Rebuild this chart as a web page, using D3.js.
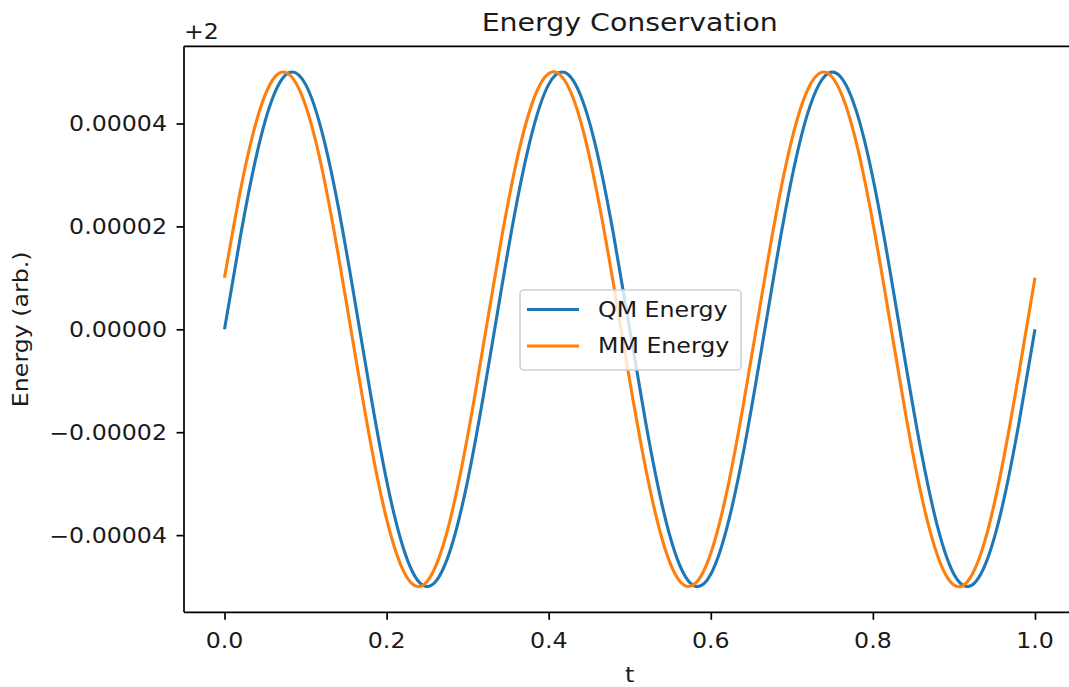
<!DOCTYPE html>
<html>
<head>
<meta charset="utf-8">
<script src="https://cdn.jsdelivr.net/npm/d3@7"></script>
<style>
  html, body { margin: 0; padding: 0; background: #ffffff; }
  svg { display: block; }
  text { font-family: "DejaVu Sans", sans-serif; fill: #1a1a1a; }
</style>
</head>
<body>
<script>
// Sample times (t) shared by both energy traces
const timePoints = [
  0.00, 0.02, 0.04, 0.06, 0.08, 0.10, 0.12, 0.14, 0.16, 0.18,
  0.20, 0.22, 0.24, 0.26, 0.28, 0.30, 0.32, 0.34, 0.36, 0.38,
  0.40, 0.42, 0.44, 0.46, 0.48, 0.50, 0.52, 0.54, 0.56, 0.58,
  0.60, 0.62, 0.64, 0.66, 0.68, 0.70, 0.72, 0.74, 0.76, 0.78,
  0.80, 0.82, 0.84, 0.86, 0.88, 0.90, 0.92, 0.94, 0.96, 0.98,
  1.00
];

// Energies relative to the common offset (+2)
const energyOffset = 2;

const qmEnergy = [
   0.00e-5,  1.84e-5,  3.42e-5,  4.52e-5,  4.99e-5,  4.76e-5,  3.85e-5,  2.41e-5,  0.63e-5, -1.24e-5,
  -2.94e-5, -4.22e-5, -4.91e-5, -4.91e-5, -4.22e-5, -2.94e-5, -1.24e-5,  0.63e-5,  2.41e-5,  3.85e-5,
   4.76e-5,  4.99e-5,  4.52e-5,  3.42e-5,  1.84e-5,  0.00e-5, -1.84e-5, -3.42e-5, -4.52e-5, -4.99e-5,
  -4.76e-5, -3.85e-5, -2.41e-5, -0.63e-5,  1.24e-5,  2.94e-5,  4.22e-5,  4.91e-5,  4.91e-5,  4.22e-5,
   2.94e-5,  1.24e-5, -0.63e-5, -2.41e-5, -3.85e-5, -4.76e-5, -4.99e-5, -4.52e-5, -3.42e-5, -1.84e-5,
   0.00e-5
];

const mmEnergy = [
   1.00e-5,  2.73e-5,  4.08e-5,  4.86e-5,  4.95e-5,  4.35e-5,  3.14e-5,  1.48e-5, -0.38e-5, -2.19e-5,
  -3.69e-5, -4.67e-5, -5.00e-5, -4.62e-5, -3.60e-5, -2.07e-5, -0.25e-5,  1.61e-5,  3.24e-5,  4.41e-5,
   4.97e-5,  4.83e-5,  4.01e-5,  2.62e-5,  0.87e-5, -1.00e-5, -2.73e-5, -4.08e-5, -4.86e-5, -4.95e-5,
  -4.35e-5, -3.14e-5, -1.48e-5,  0.38e-5,  2.19e-5,  3.69e-5,  4.67e-5,  5.00e-5,  4.62e-5,  3.60e-5,
   2.07e-5,  0.25e-5, -1.61e-5, -3.24e-5, -4.41e-5, -4.97e-5, -4.83e-5, -4.01e-5, -2.62e-5, -0.87e-5,
   1.00e-5
];

const seriesNames = ["QM Energy", "MM Energy"];
const seriesColors = ["#1f77b4", "#ff7f0e"];

const xTickValues = [0.0, 0.2, 0.4, 0.6, 0.8, 1.0];
const yTickValues = [-4e-5, -2e-5, 0, 2e-5, 4e-5];

const titleText = "Energy Conservation";
const xLabelText = "t";
const yLabelText = "Energy (arb.)";
const offsetText = "+" + energyOffset;

// ---- layout ----
const W = 1069, H = 687;
const plot = { left: 184, right: 1075.5, top: 46.3, bottom: 612.3 };
const tickFont = 20.6, titleFont = 24.7, widen = 1.15;

const svg = d3.select("body").append("svg")
  .attr("width", W).attr("height", H)
  .attr("viewBox", `0 0 ${W} ${H}`);

svg.append("rect").attr("width", W).attr("height", H).attr("fill", "#ffffff");

// 5% padding around the data extent on both axes
const xExt = d3.extent(timePoints);
const xPad = (xExt[1] - xExt[0]) * 0.05;
const yAll = qmEnergy.concat(mmEnergy);
const yExt = d3.extent(yAll);
const yPad = (yExt[1] - yExt[0]) * 0.05;

const x = d3.scaleLinear().domain([xExt[0] - xPad, xExt[1] + xPad]).range([plot.left, plot.right]);
const y = d3.scaleLinear().domain([yExt[0] - yPad, yExt[1] + yPad]).range([plot.bottom, plot.top]);

// text drawn slightly wide along its baseline
function label(g, str, px, py, size, anchor, rotate) {
  const rot = rotate ? ` rotate(${rotate})` : "";
  return g.append("text")
    .attr("transform", `translate(${px},${py})${rot} scale(${widen},1)`)
    .attr("text-anchor", anchor)
    .attr("font-size", size)
    .text(str);
}

// ---- curves ----
const clip = svg.append("clipPath").attr("id", "plotclip")
  .append("rect")
  .attr("x", plot.left).attr("y", plot.top)
  .attr("width", plot.right - plot.left).attr("height", plot.bottom - plot.top);

const line = d3.line()
  .x((d, i) => x(timePoints[i]))
  .y(d => y(d))
  .curve(d3.curveNatural);

const curves = svg.append("g").attr("clip-path", "url(#plotclip)");
[qmEnergy, mmEnergy].forEach((vals, i) => {
  curves.append("path")
    .attr("d", line(vals))
    .attr("fill", "none")
    .attr("stroke", seriesColors[i])
    .attr("stroke-width", 3.1)
    .attr("stroke-linejoin", "round")
    .attr("stroke-linecap", "butt");
});

// ---- axes ----
const xAxis = d3.axisBottom(x).tickValues(xTickValues).tickSize(7.5).tickFormat("");
const yAxis = d3.axisLeft(y).tickValues(yTickValues).tickSize(7.5).tickFormat("");

const gx = svg.append("g").attr("transform", `translate(0,${plot.bottom})`).call(xAxis);
const gy = svg.append("g").attr("transform", `translate(${plot.left},0)`).call(yAxis);
[gx, gy].forEach(g => {
  g.select(".domain").remove();
  g.selectAll(".tick line").attr("stroke", "#000").attr("stroke-width", 1.7);
});

// spines: left, bottom and top (right one falls past the page edge)
const spine = svg.append("g").attr("stroke", "#000").attr("stroke-width", 1.7).attr("fill", "none");
spine.append("line").attr("x1", plot.left).attr("x2", plot.left).attr("y1", plot.top).attr("y2", plot.bottom);
spine.append("line").attr("x1", plot.left).attr("x2", plot.right).attr("y1", plot.bottom).attr("y2", plot.bottom);
spine.append("line").attr("x1", plot.left).attr("x2", plot.right).attr("y1", plot.top).attr("y2", plot.top);
spine.append("line").attr("x1", plot.right).attr("x2", plot.right).attr("y1", plot.top).attr("y2", plot.bottom);

// tick labels
const fmtX = d3.format(".1f");
const fmtY = d3.format(".5f");
const labels = svg.append("g");
xTickValues.forEach(v => label(labels, fmtX(v), x(v), 648, tickFont, "middle"));
yTickValues.forEach(v => label(labels, fmtY(v), 167, y(v) + 8, tickFont, "end"));

// offset, titles
label(labels, offsetText, 184, 39, tickFont, "start");
label(labels, titleText, (plot.left + plot.right) / 2, 31, titleFont, "middle");
label(labels, xLabelText, (plot.left + plot.right) / 2, 682, tickFont, "middle");
label(labels, yLabelText, 28, (plot.top + plot.bottom) / 2, tickFont, "middle", -90);

// ---- legend ----
const lg = svg.append("g");
lg.append("rect")
  .attr("x", 520).attr("y", 290).attr("width", 221).attr("height", 80)
  .attr("rx", 4).attr("ry", 4)
  .attr("fill", "#ffffff").attr("fill-opacity", 0.8)
  .attr("stroke", "#d0d0d0").attr("stroke-width", 1.6);
seriesNames.forEach((name, i) => {
  const ly = 309.5 + i * 36.5;
  lg.append("line")
    .attr("x1", 527).attr("x2", 579).attr("y1", ly).attr("y2", ly)
    .attr("stroke", seriesColors[i]).attr("stroke-width", 3.1);
  label(lg, name, 598, ly + 7.2, tickFont, "start");
});
</script>
</body>
</html>
